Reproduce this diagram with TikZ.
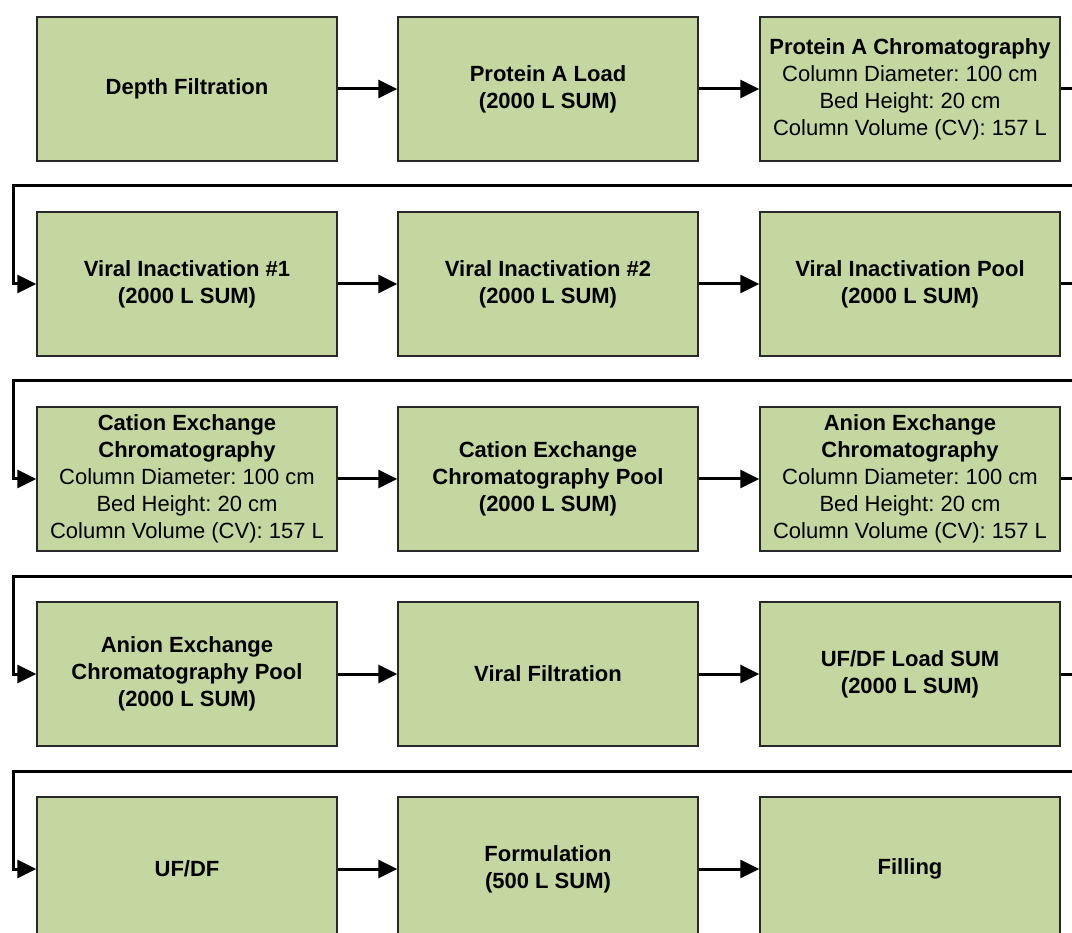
\documentclass[tikz,border=0pt]{standalone}
\usepackage{fontspec}
\setmainfont{Liberation Sans}
\usetikzlibrary{arrows.meta}
\definecolor{boxfill}{RGB}{196,215,160}
\definecolor{boxline}{RGB}{40,40,40}
\frenchspacing
\tikzset{
  procbox/.style={draw=boxline, line width=1.3pt, fill=boxfill, minimum width=300pt, minimum height=144pt,
    inner sep=2pt, align=center, font=\fontsize{22pt}{27pt}\selectfont, text=black},
  conn/.style={line width=3pt, -{Triangle[length=19pt,width=18pt]}, line join=miter}
}
\begin{document}
\begin{tikzpicture}[x=1pt,y=-1pt]
\useasboundingbox (0,0) rectangle (1072,933);
% row 1
\node[procbox] (a1) at (187,89) {\textbf{Depth Filtration}};
\node[procbox] (a2) at (548,89) {\textbf{Protein A Load}\\\textbf{(2000 L SUM)}};
\node[procbox] (a3) at (910,89) {\textbf{Protein A Chromatography}\\Column Diameter: 100 cm\\Bed Height: 20 cm\\Column Volume (CV): 157 L};
% row 2
\node[procbox] (b1) at (187,284) {\textbf{Viral Inactivation \#1}\\\textbf{(2000 L SUM)}};
\node[procbox] (b2) at (548,284) {\textbf{Viral Inactivation \#2}\\\textbf{(2000 L SUM)}};
\node[procbox] (b3) at (910,284) {\textbf{Viral Inactivation Pool}\\\textbf{(2000 L SUM)}};
% row 3
\node[procbox] (c1) at (187,479) {\textbf{Cation Exchange}\\\textbf{Chromatography}\\Column Diameter: 100 cm\\Bed Height: 20 cm\\Column Volume (CV): 157 L};
\node[procbox] (c2) at (548,479) {\textbf{Cation Exchange}\\\textbf{Chromatography Pool}\\\textbf{(2000 L SUM)}};
\node[procbox] (c3) at (910,479) {\textbf{Anion Exchange}\\\textbf{Chromatography}\\Column Diameter: 100 cm\\Bed Height: 20 cm\\Column Volume (CV): 157 L};
% row 4
\node[procbox] (d1) at (187,674) {\textbf{Anion Exchange}\\\textbf{Chromatography Pool}\\\textbf{(2000 L SUM)}};
\node[procbox] (d2) at (548,674) {\textbf{Viral Filtration}};
\node[procbox] (d3) at (910,674) {\textbf{UF/DF Load SUM}\\\textbf{(2000 L SUM)}};
% row 5
\node[procbox] (e1) at (187,869) {\textbf{UF/DF}};
\node[procbox] (e2) at (548,869) {\textbf{Formulation}\\\textbf{(500 L SUM)}};
\node[procbox] (e3) at (910,869) {\textbf{Filling}};
% return coordinates
\coordinate (rA) at (1095,186);
\coordinate (lA) at (13,186);
\coordinate (rB) at (1095,381);
\coordinate (lB) at (13,381);
\coordinate (rC) at (1095,576);
\coordinate (lC) at (13,576);
\coordinate (rD) at (1095,771);
\coordinate (lD) at (13,771);
% horizontal arrows
\foreach \r in {a,b,c,d,e}{
  \draw[conn] (\r1.east) -- (\r2.west);
  \draw[conn] (\r2.east) -- (\r3.west);
}
% returns
\draw[conn] (a3.east) -| (rA) -- (lA) |- (b1.west);
\draw[conn] (b3.east) -| (rB) -- (lB) |- (c1.west);
\draw[conn] (c3.east) -| (rC) -- (lC) |- (d1.west);
\draw[conn] (d3.east) -| (rD) -- (lD) |- (e1.west);
\end{tikzpicture}
\end{document}
